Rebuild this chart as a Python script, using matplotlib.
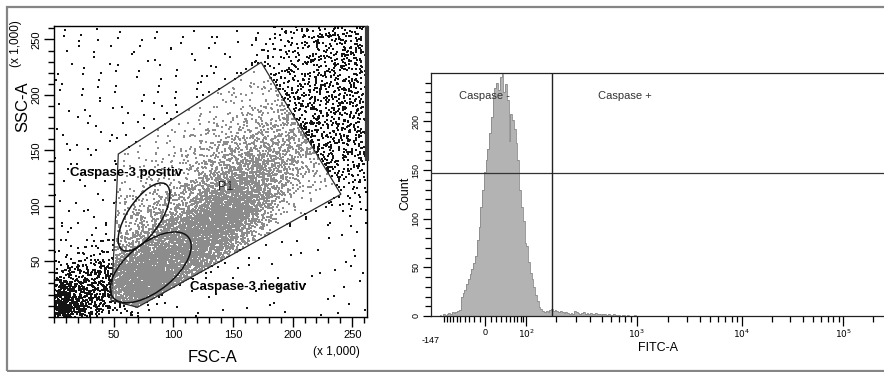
import numpy as np
import matplotlib
matplotlib.use("Agg")
import matplotlib.pyplot as plt
from matplotlib.path import Path
from matplotlib.patches import Ellipse, Polygon, Rectangle

plt.rcParams['font.family'] = ['Liberation Sans', 'DejaVu Sans']

# ------------------------------------------------------------------ data
# Left panel: FSC-A / SSC-A event counts per cell (16 x 16 cells of 16.384 k units),
# rows from bottom (SSC low) to top, columns from left (FSC low) to right.
# Events inside gate P1 (drawn grey):
p1_events = [
    [0, 0, 0, 35, 45, 12, 0, 0, 0, 0, 0, 0, 0, 0, 0, 0],
    [0, 0, 0, 240, 360, 230, 60, 8, 0, 0, 0, 0, 0, 0, 0, 0],
    [0, 0, 0, 200, 390, 350, 180, 70, 15, 0, 0, 0, 0, 0, 0, 0],
    [0, 0, 0, 70, 180, 250, 240, 210, 90, 18, 0, 0, 0, 0, 0, 0],
    [0, 0, 0, 30, 75, 130, 220, 300, 260, 105, 18, 0, 0, 0, 0, 0],
    [0, 0, 0, 18, 38, 60, 110, 220, 310, 225, 70, 12, 0, 0, 0, 0],
    [0, 0, 0, 12, 22, 33, 52, 105, 195, 225, 135, 45, 9, 0, 0, 0],
    [0, 0, 0, 6, 12, 18, 30, 52, 90, 155, 140, 75, 30, 12, 0, 0],
    [0, 0, 0, 3, 6, 9, 15, 30, 52, 90, 110, 90, 45, 18, 0, 0],
    [0, 0, 0, 0, 3, 6, 9, 18, 30, 45, 60, 60, 45, 15, 0, 0],
    [0, 0, 0, 0, 0, 3, 4, 9, 15, 24, 33, 40, 30, 9, 0, 0],
    [0, 0, 0, 0, 0, 0, 0, 4, 7, 12, 18, 22, 15, 0, 0, 0],
    [0, 0, 0, 0, 0, 0, 0, 0, 3, 6, 9, 9, 0, 0, 0, 0],
    [0, 0, 0, 0, 0, 0, 0, 0, 0, 3, 3, 0, 0, 0, 0, 0],
    [0, 0, 0, 0, 0, 0, 0, 0, 0, 0, 0, 0, 0, 0, 0, 0],
    [0, 0, 0, 0, 0, 0, 0, 0, 0, 0, 0, 0, 0, 0, 0, 0],
]
# Events outside gate P1 (drawn black):
other_events = [
    [260, 90, 35, 12, 4, 2, 1, 1, 1, 1, 1, 1, 1, 1, 1, 2],
    [110, 80, 70, 5, 2, 2, 2, 1, 1, 1, 1, 1, 1, 1, 1, 2],
    [30, 45, 65, 5, 1, 1, 2, 2, 2, 1, 1, 1, 1, 1, 1, 2],
    [6, 10, 14, 3, 1, 1, 1, 1, 2, 2, 2, 1, 1, 1, 1, 2],
    [3, 3, 3, 1, 0, 0, 0, 0, 0, 1, 1, 1, 1, 1, 1, 2],
    [2, 2, 2, 1, 0, 0, 0, 0, 0, 0, 0, 2, 2, 2, 2, 3],
    [2, 2, 2, 1, 0, 0, 0, 0, 0, 0, 0, 0, 0, 4, 6, 9],
    [2, 2, 2, 1, 0, 0, 0, 0, 0, 0, 0, 0, 0, 9, 15, 18],
    [2, 2, 2, 1, 0, 0, 0, 0, 0, 0, 0, 0, 9, 18, 24, 27],
    [2, 2, 2, 2, 2, 0, 0, 0, 0, 0, 0, 0, 15, 24, 30, 33],
    [2, 2, 2, 2, 2, 2, 1, 0, 0, 0, 0, 6, 21, 30, 36, 36],
    [2, 2, 2, 2, 2, 2, 2, 2, 2, 0, 0, 12, 24, 33, 36, 36],
    [2, 2, 2, 2, 2, 2, 2, 2, 2, 2, 6, 15, 27, 33, 36, 33],
    [2, 2, 2, 2, 2, 2, 2, 2, 2, 2, 7, 15, 22, 30, 33, 33],
    [2, 2, 2, 2, 2, 2, 2, 2, 2, 2, 7, 12, 21, 27, 30, 33],
    [2, 2, 2, 2, 2, 2, 2, 2, 2, 2, 6, 10, 18, 24, 27, 30],
]
scale_max = 262.144  # x 1,000
saturated_ssc = (140, 262.144)  # SSC span of events piled at FSC maximum

p1_gate = [(53.7, 146.7), (173.6, 229.4), (240.5, 110.4), (69.7, 8.5),
           (47.5, 15.0), (48.3, 25.0), (50.5, 70.0), (51.8, 100.0)]
caspase_pos_gate = {"center": (75.3, 89.9), "width": 69.6, "height": 28.6, "angle": 59}
caspase_neg_gate = {"center": (80.9, 44.5), "width": 83.4, "height": 41.8, "angle": 42}

fsc_ticks = [50, 100, 150, 200, 250]
ssc_ticks = [50, 100, 150, 200, 250]

# Right panel: FITC-A histogram, 256 channels equally spaced on the display axis
fitc_counts = [
    0, 0, 0, 0, 0, 1, 0, 2, 1, 2,
    3, 2, 4, 3, 4, 5, 6, 20, 24, 27,
    33, 38, 43, 48, 54, 62, 78, 92, 112, 130,
    148, 160, 172, 188, 205, 226, 234, 240, 232, 246,
    249, 230, 238, 222, 180, 208, 202, 192, 178, 160,
    130, 112, 98, 75, 72, 55, 44, 38, 30, 22,
    15, 9, 7, 5, 4, 5, 4, 6, 7, 5,
    6, 5, 4, 5, 4, 3, 4, 3, 2, 3,
    2, 5, 4, 3, 2, 3, 4, 2, 3, 2,
    3, 2, 2, 3, 2, 2, 1, 2, 2, 1,
    2, 1, 1, 2, 1, 1, 1, 0, 1, 1,
    0, 1, 0, 0, 0, 1, 0,
] + [0] * 139
fitc_min, fitc_max = -147, 262144
count_max = 249.5
gate_level = 147          # height of the interval gates
caspase_split = 183       # boundary Caspase - / Caspase +
fitc_major = [0, 100, 1000, 10000, 100000]
fitc_major_labels = ['0', r'$10^2$', r'$10^3$', r'$10^4$', r'$10^5$']
count_ticks = [0, 50, 100, 150, 200]

# ------------------------------------------------------------------ figure
W, H = 884, 372
fig = plt.figure(figsize=(W / 100, H / 100), dpi=100)


def fx(px):
    return px / W


def fy(py):
    return 1 - py / H


# outer frame
fig.patches.append(Rectangle((fx(7), fy(371)), 1.2, fy(7) - fy(371), transform=fig.transFigure,
                             fill=False, edgecolor='#858585', linewidth=1.6))

# ------------------------------------------------------------------ left panel
axL = fig.add_axes([fx(54.3), fy(316.7), fx(366.7) - fx(54.3), fy(26) - fy(316.7)])
axL.set_xlim(0, scale_max)
axL.set_ylim(0, scale_max)

gate_path = Path(p1_gate)


def radical_inverse(idx, base):
    idx = np.array(idx, dtype=np.int64)
    r = np.zeros(len(idx))
    f = 1.0
    while np.any(idx > 0):
        f /= base
        r += f * (idx % base)
        idx //= base
    return r


def place_events(grid, want_inside, start):
    """Spread each cell's event count over the cell (deterministic Halton layout),
    keeping only positions on the requested side of gate P1."""
    dens = np.array(grid, dtype=int)
    nrow, ncol = dens.shape
    cw, ch = scale_max / ncol, scale_max / nrow
    xs, ys = [], []
    idx = start
    for i in range(nrow):
        for j in range(ncol):
            n = dens[i, j]
            if n == 0:
                continue
            m = 10 * n + 40
            k = np.arange(idx, idx + m)
            idx += m
            u = [radical_inverse(k, b) for b in (2, 3, 5, 7)]
            x = (j + 0.5) * cw + cw * (u[0] + u[1] - 1)
            y = (i + 0.5) * ch + ch * (u[2] + u[3] - 1)
            ok = (x >= 0) & (x <= scale_max) & (y >= 0) & (y <= scale_max)
            ok &= gate_path.contains_points(np.column_stack([x, y])) == want_inside
            xs.append(x[ok][:n])
            ys.append(y[ok][:n])
    return np.concatenate(xs), np.concatenate(ys), idx


ox, oy, nxt = place_events(other_events, False, 1)
gx, gy, _ = place_events(p1_events, True, nxt + 7919)
axL.scatter(ox, oy, s=0.75, marker='s', c='#141414', linewidths=0)
axL.scatter(gx, gy, s=0.9, marker='s', c='#8c8c8c', linewidths=0)

# events piled at FSC maximum (thick right edge)
axL.plot([scale_max, scale_max], saturated_ssc, color='#3a3a3a', linewidth=3.0, clip_on=False,
         solid_capstyle='butt', zorder=5)

axL.add_patch(Polygon(p1_gate, closed=True, fill=False, edgecolor='#2a2a2a', linewidth=0.9))
for gdef in (caspase_pos_gate, caspase_neg_gate):
    axL.add_patch(Ellipse(gdef["center"], gdef["width"], gdef["height"], angle=gdef["angle"],
                          fill=False, edgecolor='#111111', linewidth=1.1))

axL.text(13.5, 129.8, 'Caspase-3 positiv', fontsize=9.5, fontweight='bold', va='center', ha='left')
axL.text(113.8, 26.5, 'Caspase-3 negativ', fontsize=9.5, fontweight='bold', va='center', ha='left')
axL.text(137.4, 117.2, 'P1', fontsize=9, va='center', ha='left', color='#222222')

axL.set_xticks(fsc_ticks)
axL.set_xticks(np.arange(0, 261, 10), minor=True)
axL.set_yticks(ssc_ticks)
axL.set_yticks(np.arange(0, 261, 10), minor=True)
axL.set_xticklabels([str(t) for t in fsc_ticks], fontsize=8)
axL.set_yticklabels([str(t) for t in ssc_ticks], fontsize=8, rotation=90, va='center')
axL.tick_params(which='major', direction='out', length=7.5, width=1.0, pad=2)
axL.tick_params(which='minor', direction='out', length=4.3, width=1.0)
for sp in axL.spines.values():
    sp.set_linewidth(1.0)

fig.text(fx(212.5), fy(358), 'FSC-A', fontsize=12, ha='center', va='center')
fig.text(fx(336.7), fy(352), '(x 1,000)', fontsize=8.5, ha='center', va='center')
fig.text(fx(22.5), fy(106.7), 'SSC-A', fontsize=12, ha='center', va='center', rotation=90)
fig.text(fx(16.5), fy(44), '(x 1,000)', fontsize=8.5, ha='center', va='center', rotation=90)

# ------------------------------------------------------------------ right panel
anchor_vals = np.array([-147, -100, 0, 100, 200, 300, 500, 1000, 1e4, 1e5, 262144], float)
anchor_pos = np.array([0.0, 0.0304, 0.1205, 0.2103, 0.2765, 0.3206, 0.3773, 0.4545,
                       0.6861, 0.9102, 1.0])
A = np.arcsinh(anchor_vals / 50.0)


def _interp_ext(t, xp, fp):
    t = np.asarray(t, float)
    y = np.interp(t, xp, fp)
    lo_s = (fp[1] - fp[0]) / (xp[1] - xp[0])
    hi_s = (fp[-1] - fp[-2]) / (xp[-1] - xp[-2])
    y = np.where(t < xp[0], fp[0] + (t - xp[0]) * lo_s, y)
    y = np.where(t > xp[-1], fp[-1] + (t - xp[-1]) * hi_s, y)
    return y


def fwd(x):
    return _interp_ext(np.arcsinh(np.asarray(x, float) / 50.0), A, anchor_pos)


def inv(p):
    return 50.0 * np.sinh(_interp_ext(p, anchor_pos, A))


axR = fig.add_axes([fx(430.7), fy(316), 1 - fx(430.7), fy(73.3) - fy(316)])
axR.set_xscale('function', functions=(fwd, inv))
axR.set_xlim(fitc_min, fitc_max)
axR.set_ylim(0, count_max)

edges = inv(np.linspace(0, 1, len(fitc_counts) + 1))
edges[0], edges[-1] = fitc_min, fitc_max
axR.stairs(fitc_counts, edges, fill=True, color='#b3b3b3', zorder=2)
axR.stairs(fitc_counts, edges, fill=False, color='#8a8a8a', linewidth=0.6, zorder=3)

axR.axhline(gate_level, color='#333333', linewidth=0.9, zorder=4)
axR.axvline(caspase_split, color='#222222', linewidth=1.0, zorder=4)
axR.text(0.0624, 0.906, 'Caspase -', transform=axR.transAxes, fontsize=8, va='center', ha='left',
         color='#333333', zorder=5)
axR.text(0.3697, 0.906, 'Caspase +', transform=axR.transAxes, fontsize=8, va='center', ha='left',
         color='#333333', zorder=5)

minor = ([v for v in range(-100, 101, 10) if v not in (0, 100)]
         + list(range(200, 1000, 100)) + list(range(2000, 10000, 1000))
         + list(range(20000, 100000, 10000)) + [200000])
axR.set_xticks(fitc_major)
axR.set_xticklabels(fitc_major_labels, fontsize=6.5)
axR.set_xticks(minor, minor=True)
axR.set_xticklabels([], minor=True)
axR.tick_params(axis='x', which='major', direction='out', length=7, width=0.9, pad=1.5)
axR.tick_params(axis='x', which='minor', direction='out', length=4, width=0.9)
axR.text(fitc_min, -0.10, '-147', transform=axR.get_xaxis_transform(), fontsize=6.5,
         ha='center', va='center')

axR.set_yticks(count_ticks)
axR.set_yticklabels([str(t) for t in count_ticks], fontsize=6.5, rotation=90, va='center')
axR.set_yticks(np.arange(0, 250, 10), minor=True)
axR.tick_params(axis='y', which='major', direction='out', length=6, width=0.9, pad=1.5)
axR.tick_params(axis='y', which='minor', direction='out', length=4, width=0.9)
axR.spines['right'].set_visible(False)
for s in ('left', 'top', 'bottom'):
    axR.spines[s].set_linewidth(0.9)
    axR.spines[s].set_color('#222222')

fig.text(fx(405), fy(193.3), 'Count', fontsize=9, ha='center', va='center', rotation=90)
fig.text(fx(658), fy(348.3), 'FITC-A', fontsize=9, ha='center', va='center')

fig.savefig('out.png', dpi=100)
